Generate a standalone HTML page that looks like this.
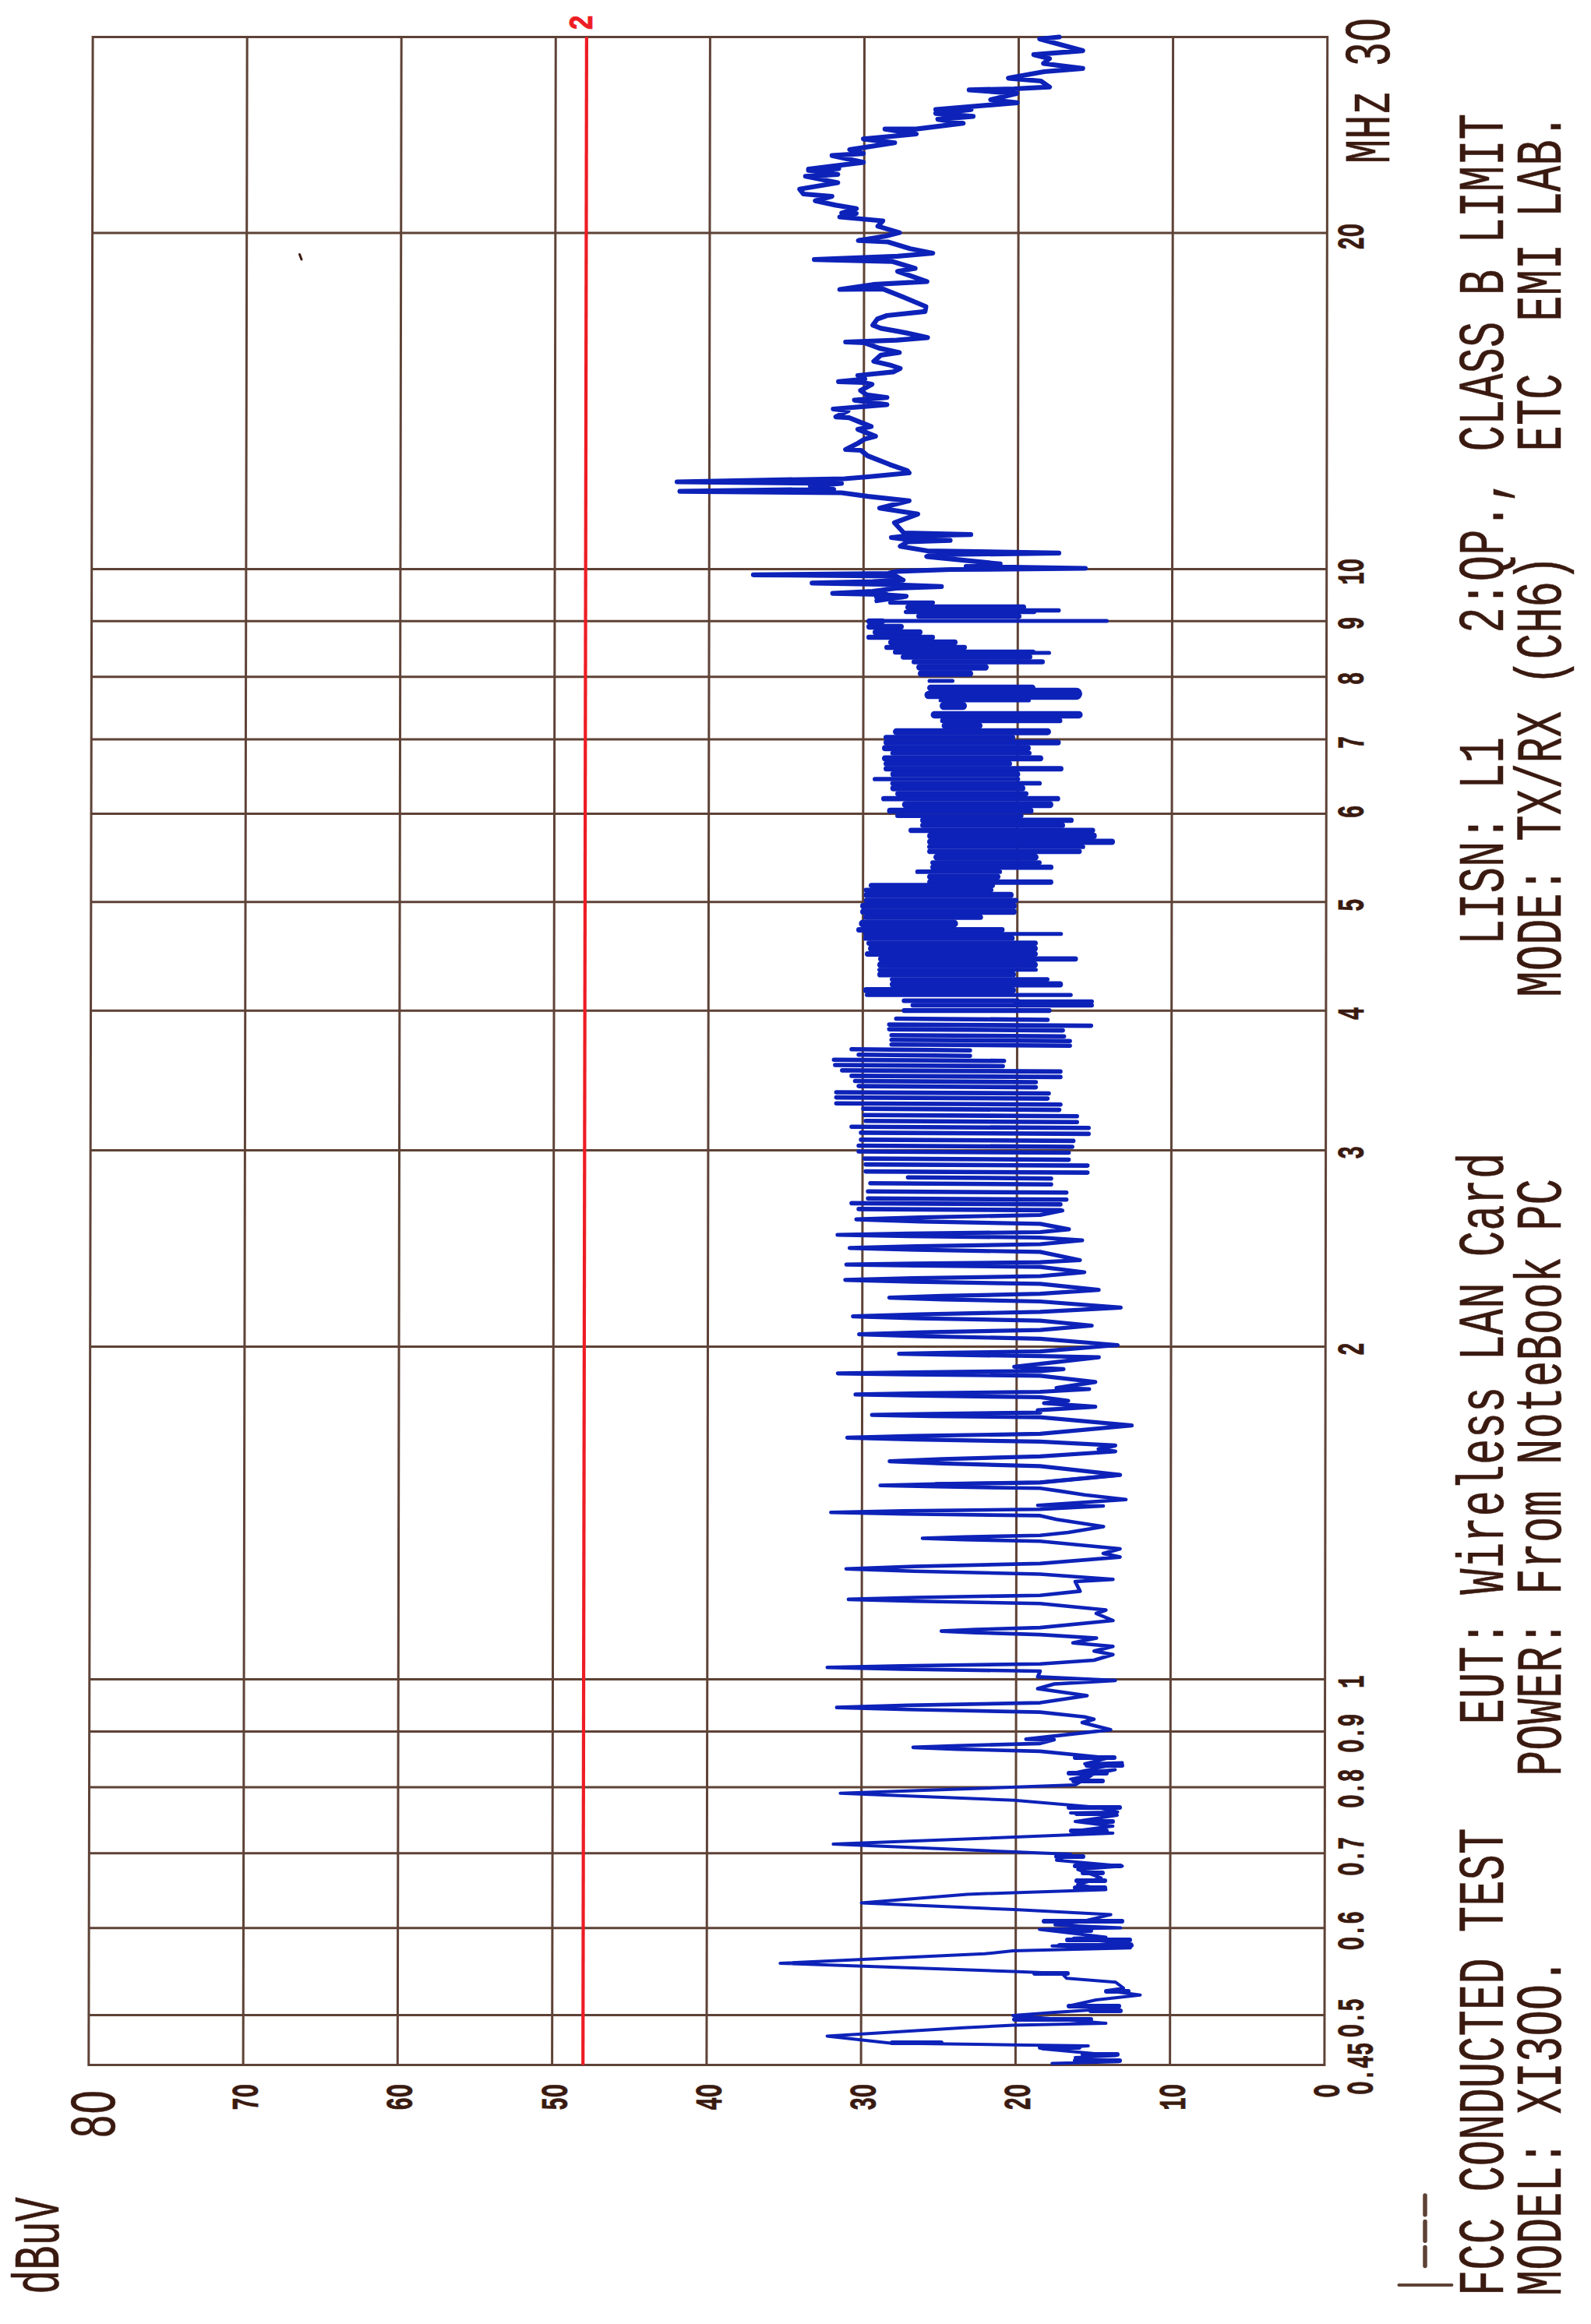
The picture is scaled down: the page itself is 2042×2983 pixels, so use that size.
<!DOCTYPE html><html><head><meta charset="utf-8"><style>html,body{margin:0;padding:0;background:#fff;}svg{display:block}</style></head><body><svg width="2042" height="2983" viewBox="0 0 2042 2983">
<rect width="100%" height="100%" fill="#fff"/>
<path d="M119.1 47.5L1703.7 47.5M118.6 299.1L1703.3 299.1M117.7 730.6L1702.7 730.6M117.6 797.3L1702.6 797.3M117.4 868.7L1702.5 868.7M117.3 948.9L1702.4 948.9M117.1 1044.6L1702.2 1044.6M116.8 1157.8L1702.1 1157.8M116.6 1297.3L1701.9 1297.3M116.2 1476.5L1701.6 1476.5M115.7 1728.6L1701.2 1728.6M114.8 2155.5L1700.6 2155.5M114.7 2222.6L1700.5 2222.6M114.5 2294.0L1700.4 2294.0M114.4 2378.7L1700.3 2378.7M114.2 2474.7L1700.2 2474.7M113.9 2586.5L1700.0 2586.5M113.8 2650.6L1699.9 2650.6M119.1 47.5L113.8 2650.6M317.2 47.5L312.1 2650.6M515.2 47.5L510.3 2650.6M713.3 47.5L708.6 2650.6M911.4 47.5L906.9 2650.6M1109.5 47.5L1105.1 2650.6M1307.5 47.5L1303.4 2650.6M1505.6 47.5L1501.6 2650.6M1703.7 47.5L1699.9 2650.6" stroke="#5e4236" stroke-width="3" fill="none" stroke-linecap="square"/>
<path d="M752.9 47.5L748.2 2650.6" stroke="#ee1c24" stroke-width="4.2" fill="none"/>
<g fill="none" stroke="#0d22b8" stroke-linejoin="round" stroke-linecap="round"><path d="M1359.5 47.5 L1334.4 50.0 L1362.0 57.6 L1389.7 65.1 L1326.8 70.2 L1347.0 75.2 L1339.4 81.5 L1389.7 87.8 L1340.0 92.0 L1294.2 100.3 L1336.0 104.0 L1347.0 111.7 L1302.0 114.0 L1243.9 115.4 L1305.0 120.0 L1271.5 128.0 L1305.5 131.8 L1201.0 140.6 L1246.4 140.6 L1201.0 145.6 L1249.0 149.4 L1203.6 153.1 L1236.3 158.2 L1176.0 165.7 L1135.8 165.7 L1176.0 172.0 L1108.1 178.3 L1148.3 183.3 L1090.5 192.1 L1108.1 197.1 L1067.9 199.7 L1108.1 208.4 L1037.7 217.2 L1076.6 216.3 L1037.6 218.8 L1075.3 223.8 L1033.8 226.3 L1075.3 234.5 L1026.3 242.7 L1031.3 249.0 L1067.8 252.1 L1046.4 257.7 L1072.8 263.4 L1099.2 267.8 L1080.3 273.5 L1099.0 274.0 L1077.8 278.5 L1133.1 283.5 L1126.8 290.4 L1154.5 298.6 L1136.9 303.0 L1101.7 308.7 L1139.4 310.5 L1168.3 319.3 L1197.2 325.0 L1152.0 328.8 L1045.1 333.2 L1145.7 335.7 L1174.6 344.5 L1152.0 348.3 L1189.7 361.4 L1120.6 365.2 L1077.8 371.5 L1133.1 370.9 L1158.3 380.9 L1188.4 393.5 L1187.2 399.8 L1138.4 405.0 L1126.0 409.5 L1120.3 417.4 L1130.5 421.4 L1153.0 425.4 L1164.5 427.6 L1190.5 433.3 L1150.9 436.7 L1085.3 439.0 L1110.0 440.0 L1128.2 446.9 L1154.3 452.5 L1130.5 455.9 L1121.5 463.8 L1141.8 468.4 L1155.4 472.9 L1146.3 477.4 L1101.0 482.0 L1110.0 486.5 L1076.2 489.9 L1108.0 491.0 L1119.2 493.2 L1104.5 501.2 L1112.4 506.8 L1138.4 510.2 L1096.6 513.6 L1138.4 519.3 L1069.4 525.0 L1088.6 527.2 L1072.8 535.1 L1089.8 536.2 L1106.7 543.0 L1118.1 547.5 L1101.0 551.0 L1123.7 560.0 L1110.1 563.4 L1101.0 569.0 L1085.3 577.0 L1105.0 578.0 L1113.5 585.0 L1141.8 596.2 L1164.5 604.1 L1166.8 607.0 L1114.0 612.0 L1083.8 614.5 L869.0 618.5 L1080.0 620.5 L1040.0 624.0 L1070.0 628.0 L872.6 630.7 L1080.0 632.5 L1114.0 637.1 L1166.8 642.8 L1129.0 652.2 L1178.0 659.8 L1148.0 671.0 L1160.0 684.0 L1246.0 686.2 L1162.0 688.0 L1144.0 690.0 L1160.0 692.0 L1219.5 693.7 L1165.0 695.5 L1155.5 701.2 L1190.0 707.0 L1359.0 709.9 L1195.0 712.0 L1189.4 714.4 L1283.7 723.9 L1240.0 727.0 L1393.0 729.5 L1220.0 731.0 L1151.7 733.3 L1140.0 736.0 L966.9 737.8 L1150.0 739.5 L1159.2 744.6 L1120.0 746.5 L1042.3 748.4 L1130.0 750.0 L1160.0 751.0 L1208.3 752.9 L1150.0 755.0 L1120.0 759.0 L1068.7 761.6 L1130.0 763.0 L1163.0 765.4 L1125.3 771.0" stroke-width="6.2"/><path d="M1102.5 762.0H1137.5" stroke-width="5.0"/><path d="M1124.7 766.5H1159.3" stroke-width="5.4"/><path d="M1142.7 773.5H1197.3" stroke-width="5.4"/><path d="M1165.7 779.5H1313.3" stroke-width="7.4"/><path d="M1302.7 783.5H1358.8" stroke-width="5.4"/><path d="M1162.7 785.5H1327.3" stroke-width="5.4"/><path d="M1179.2 791.0H1307.8" stroke-width="6.4"/><path d="M1132.5 797.0H1420.5" stroke-width="5.0"/><path d="M1115.7 797.5H1132.3" stroke-width="7.4"/><path d="M1115.7 804.5H1156.3" stroke-width="7.4"/><path d="M1123.7 811.5H1180.3" stroke-width="7.4"/><path d="M1115.2 818.0H1196.8" stroke-width="6.4"/><path d="M1143.7 824.5H1225.3" stroke-width="7.4"/><path d="M1138.2 831.0H1237.8" stroke-width="6.4"/><path d="M1149.2 837.0H1325.8" stroke-width="6.4"/><path d="M1302.5 838.0H1346.5" stroke-width="5.0"/><path d="M1159.5 843.2H1321.5" stroke-width="6.9"/><path d="M1173.2 849.5H1337.8" stroke-width="6.4"/><path d="M1180.2 856.5H1264.8" stroke-width="8.4"/><path d="M1182.2 864.5H1244.8" stroke-width="8.5"/><path d="M1193.0 874.0H1222.5" stroke-width="5.0"/><path d="M1194.2 883.0H1324.8" stroke-width="8.4"/><path d="M1191.7 892.0H1323.8" stroke-width="10.4"/><path d="M1307.7 890.5H1381.3" stroke-width="15.4"/><path d="M1207.1 899.0H1320.5" stroke-width="5.0"/><path d="M1211.2 906.0H1235.8" stroke-width="10.4"/><path d="M1199.2 917.5H1384.9" stroke-width="9.4"/><path d="M1209.8 925.0H1360.3" stroke-width="6.4"/><path d="M1212.3 931.5H1257.3" stroke-width="7.4"/><path d="M1150.5 939.2H1344.5" stroke-width="8.9"/><path d="M1137.2 946.5H1299.8" stroke-width="6.4"/><path d="M1137.7 953.0H1357.8" stroke-width="7.4"/><path d="M1136.0 960.2H1319.0" stroke-width="7.9"/><path d="M1145.7 966.8H1321.0" stroke-width="6.0"/><path d="M1135.9 973.3H1335.1" stroke-width="7.8"/><path d="M1137.5 980.2H1295.5" stroke-width="6.9"/><path d="M1137.5 986.8H1361.5" stroke-width="6.9"/><path d="M1146.6 993.7H1305.5" stroke-width="7.8"/><path d="M1122.9 1000.0H1306.5" stroke-width="5.7"/><path d="M1145.5 1005.4H1334.2" stroke-width="5.7"/><path d="M1146.7 1011.8H1312.0" stroke-width="8.0"/><path d="M1152.4 1018.8H1316.6" stroke-width="6.8"/><path d="M1134.4 1025.2H1357.3" stroke-width="6.8"/><path d="M1162.2 1032.7H1347.5" stroke-width="9.0"/><path d="M1142.4 1040.7H1322.6" stroke-width="7.8"/><path d="M1151.9 1047.1H1310.8" stroke-width="5.8"/><path d="M1184.3 1052.9H1374.7" stroke-width="6.6"/><path d="M1184.5 1059.3H1363.5" stroke-width="7.0"/><path d="M1169.4 1065.8H1402.2" stroke-width="6.8"/><path d="M1194.1 1072.9H1403.6" stroke-width="8.2"/><path d="M1193.9 1080.5H1427.1" stroke-width="7.8"/><path d="M1192.9 1086.9H1389.9" stroke-width="5.8"/><path d="M1193.4 1092.8H1385.1" stroke-width="6.8"/><path d="M1202.5 1100.2H1328.5" stroke-width="8.9"/><path d="M1197.0 1107.2H1334.0" stroke-width="5.9"/><path d="M1197.3 1113.2H1348.7" stroke-width="6.7"/><path d="M1177.6 1118.9H1283.2" stroke-width="5.7"/><path d="M1193.9 1125.3H1280.1" stroke-width="7.8"/><path d="M1193.5 1132.2H1348.5" stroke-width="6.9"/><path d="M1118.4 1136.6H1273.6" stroke-width="6.8"/><path d="M1111.3 1142.4H1272.2" stroke-width="5.6"/><path d="M1112.5 1148.8H1297.0" stroke-width="8.0"/><path d="M1111.9 1155.8H1303.6" stroke-width="6.8"/><path d="M1108.0 1162.8H1301.0" stroke-width="7.9"/><path d="M1108.0 1170.2H1301.0" stroke-width="7.9"/><path d="M1111.3 1177.3H1258.2" stroke-width="7.1"/><path d="M1107.4 1185.5H1224.6" stroke-width="10.0"/><path d="M1102.4 1193.5H1286.0" stroke-width="6.8"/><path d="M1110.3 1198.8H1361.8" stroke-width="5.0"/><path d="M1111.2 1204.2H1298.9" stroke-width="6.8"/><path d="M1115.4 1210.6H1328.6" stroke-width="6.8"/><path d="M1118.0 1217.5H1328.0" stroke-width="7.9"/><path d="M1113.4 1224.5H1328.6" stroke-width="6.8"/><path d="M1130.3 1230.8H1380.2" stroke-width="6.7"/><path d="M1130.5 1238.3H1327.5" stroke-width="9.1"/><path d="M1128.5 1244.8H1329.5" stroke-width="5.0"/><path d="M1129.9 1250.7H1300.1" stroke-width="7.8"/><path d="M1144.9 1257.1H1344.1" stroke-width="5.8"/><path d="M1145.9 1263.5H1360.4" stroke-width="7.8"/><path d="M1111.8 1271.0H1300.0" stroke-width="7.9"/><path d="M1112.6 1277.1H1374.2" stroke-width="5.2"/><path d="M1160.3 1284.6H1306.0" stroke-width="6.0"/><path d="M1302.7 1285.5H1401.3" stroke-width="5.4"/><path d="M1171.6 1290.2H1401.0" stroke-width="6.0"/><path d="M1160.4 1297.1H1346.6" stroke-width="6.2"/><path d="M1150.3 1307.5L1344.4 1309.0M1141.3 1315.1L1400.3 1316.6M1141.3 1321.1L1364.1 1322.6M1144.3 1328.7L1365.6 1330.2M1144.3 1334.7L1373.1 1336.2M1144.3 1340.7L1373.1 1342.2M1093.0 1346.8L1244.9 1348.3M1102.1 1353.7L1244.9 1355.2M1070.4 1360.3L1288.6 1361.8M1071.9 1367.0L1287.1 1368.5M1080.9 1373.9L1361.0 1375.4M1093.0 1380.9L1361.0 1382.4M1097.5 1387.5L1329.4 1389.0M1102.1 1394.1L1329.4 1395.6M1073.4 1402.0L1346.0 1403.5M1073.4 1408.6L1344.4 1410.1M1073.4 1416.2L1361.0 1417.7M1108.1 1423.1L1359.5 1424.6M1109.6 1431.2L1382.2 1432.7M1111.1 1438.8L1382.2 1440.3M1093.0 1446.3L1397.2 1447.8M1105.1 1453.9L1397.2 1455.4M1105.1 1462.9L1377.6 1464.4M1102.1 1470.5L1376.1 1472.0M1102.1 1478.0L1371.6 1479.5M1109.6 1487.1L1371.6 1488.6M1111.1 1494.6L1395.7 1496.1M1111.1 1503.6L1395.7 1505.1M1165.4 1511.2L1349.0 1512.7M1117.1 1518.7L1349.0 1520.2M1114.1 1529.3L1368.6 1530.8M1114.1 1538.3L1368.6 1539.8M1093.0 1544.4L1361.0 1545.9M1102.1 1551.9L1361.0 1553.4" stroke-width="5.6"/><path d="M1363.5 1553.8 L1335.0 1559.5 L1181.6 1562.6 L1099.0 1565.2 L1181.6 1567.8 L1335.0 1570.9 L1371.9 1577.9 L1335.0 1581.5 L1165.9 1583.4 L1074.9 1585.0 L1165.9 1586.6 L1335.0 1588.5 L1388.9 1592.0 L1335.0 1597.0 L1176.1 1599.7 L1090.5 1601.9 L1176.1 1604.1 L1335.0 1606.9 L1386.0 1617.5 L1335.0 1620.1 L1173.3 1621.8 L1086.3 1623.1 L1173.3 1624.4 L1335.0 1626.1 L1391.7 1633.0 L1335.0 1638.0 L1172.4 1640.7 L1084.9 1642.9 L1172.4 1645.1 L1335.0 1647.9 L1410.1 1655.7 L1335.0 1660.7 L1209.2 1663.4 L1141.4 1665.6 L1209.2 1667.8 L1335.0 1670.5 L1438.4 1678.3 L1335.0 1683.9 L1178.8 1687.1 L1094.7 1689.6 L1178.8 1692.1 L1335.0 1695.2 L1401.2 1701.5 L1335.0 1707.1 L1183.9 1710.2 L1102.6 1712.7 L1183.9 1715.2 L1335.0 1718.3 L1434.4 1726.5 L1335.0 1734.7 L1217.3 1736.4 L1153.9 1737.7 L1217.3 1739.0 L1335.0 1740.7 L1410.3 1742.2 L1301.7 1754.3 L1365.0 1757.3 L1335.0 1759.8 L1166.3 1761.5 L1075.4 1762.8 L1166.3 1764.1 L1335.0 1765.8 L1405.8 1773.9 L1356.0 1781.5 L1398.0 1783.0 L1335.0 1786.5 L1181.0 1788.3 L1098.0 1789.9 L1181.0 1791.5 L1335.0 1793.4 L1371.0 1798.0 L1340.0 1801.0 L1405.8 1805.6 L1331.9 1810.1 L1335.0 1813.2 L1194.7 1814.8 L1119.2 1816.2 L1194.7 1817.6 L1335.0 1819.2 L1452.5 1829.7 L1335.0 1840.4 L1174.1 1843.2 L1087.5 1845.4 L1174.1 1847.7 L1335.0 1850.4 L1431.4 1855.4 L1410.0 1860.0 L1431.4 1863.0 L1335.0 1869.3 L1209.4 1872.8 L1141.8 1875.6 L1209.4 1878.4 L1335.0 1881.9 L1437.5 1893.1 L1335.0 1902.8 L1201.6 1904.9" stroke-width="5.2"/><path d="M1437.5 1893.1 L1335.0 1902.8 L1201.6 1904.9 L1129.7 1906.6 L1201.6 1908.3 L1335.0 1910.3 L1362.0 1914.1 L1392.0 1918.7 L1445.0 1924.7 L1331.9 1932.2 L1416.0 1933.0 L1335.0 1937.2 L1160.4 1939.4 L1066.4 1941.3 L1160.4 1943.2 L1335.0 1945.4 L1356.0 1950.3 L1416.3 1959.4 L1371.0 1967.0 L1335.0 1970.8 L1236.8 1972.8 L1184.0 1974.5 L1236.8 1976.2 L1335.0 1978.2 L1437.5 1988.0 L1416.0 1994.0 L1437.5 1998.6 L1335.0 2006.9 L1173.2 2010.6 L1086.0 2013.7 L1173.2 2016.8 L1335.0 2020.5 L1428.4 2027.3 L1380.0 2030.0 L1386.2 2042.4 L1335.0 2047.7 L1175.1 2050.5 L1089.0 2052.9 L1175.1 2055.3 L1335.0 2058.2 L1419.4 2066.5 L1407.0 2071.0 L1428.4 2080.0 L1335.0 2089.1 L1252.6 2091.6 L1208.2 2093.6 L1252.6 2095.6 L1335.0 2098.1 L1407.3 2102.6 L1377.1 2108.7 L1428.4 2113.2 L1404.3 2119.2 L1428.4 2123.7 L1404.0 2131.0 L1335.0 2135.7 L1157.4 2138.2 L1061.8 2140.3 L1157.4 2142.4 L1335.0 2145.0 L1331.9 2152.4 L1431.4 2157.0 L1353.0 2161.5 L1331.9 2167.5 L1395.2 2176.5 L1335.0 2185.6 L1165.3 2188.9 L1073.9 2191.6 L1165.3 2194.3 L1335.0 2197.6 L1392.2 2203.7 L1404.0 2206.7 L1389.0 2211.0 L1425.4 2220.3 L1316.8 2232.4 L1353.0 2233.0 L1335.0 2237.9 L1229.0 2240.7 L1172.0 2242.9 L1229.0 2245.1 L1335.0 2247.9 L1422.4 2256.5" stroke-width="4.6"/><path d="M1422.4 2256.5 L1392.2 2264.0 L1440.5 2262.5 L1377.0 2276.0 L1431.4 2271.5 L1374.1 2283.6 L1401.0 2279.0 L1380.1 2291.1 L1078.4 2301.7 L1301.7 2310.7 L1407.3 2319.8 L1434.4 2325.8 L1374.0 2327.0 L1434.0 2330.0 L1380.0 2338.0 L1428.4 2343.9 L1380.0 2350.0 L1428.4 2353.0 L1069.4 2367.1 L1301.7 2377.0 L1374.1 2380.1 L1356.0 2387.7 L1440.5 2395.2 L1383.2 2399.7 L1413.3 2410.3 L1383.0 2419.0 L1419.4 2425.4 L1241.4 2431.4 L1105.6 2442.6 L1301.7 2451.0 L1425.7 2457.6 L1388.0 2466.4 L1354.0 2470.8 L1438.3 2474.6 L1334.0 2476.5 L1419.4 2486.5 L1378.0 2487.8 L1452.1 2495.3 L1350.3 2497.8 L1450.8 2500.3 L1300.0 2504.1 L1263.8 2507.8 L1001.3 2519.9 L1300.0 2530.5 L1362.9 2533.0 L1369.1 2539.3 L1432.0 2544.3 L1442.0 2551.9 L1420.7 2555.0 L1463.4 2560.7 L1406.9 2567.0 L1372.9 2574.5 L1435.8 2577.6 L1350.3 2583.3 L1300.0 2587.1 L1419.4 2597.1 L1300.0 2599.6 L1236.6 2602.8 L1061.6 2613.4 L1143.0 2622.4 L1300.0 2624.8 L1396.8 2626.0 L1337.7 2629.8 L1432.0 2638.6 L1380.0 2641.0 L1435.8 2646.2 L1350.3 2648.4" stroke-width="4.0"/><path d="M1380.0 2256.0H1430.0M1395.0 2266.0H1440.0M1372.0 2276.0H1420.0M1378.0 2286.0H1415.0M1372.0 2320.0H1437.0M1382.0 2328.0H1432.0M1392.0 2338.0H1428.0M1375.0 2350.0H1420.0M1356.0 2383.0H1390.0M1380.0 2395.0H1438.0M1390.0 2404.0H1415.0M1382.0 2414.0H1418.0M1380.0 2423.0H1418.0M1340.0 2466.0H1440.0M1360.0 2478.0H1400.0M1370.0 2490.0H1450.0M1360.0 2497.0H1452.0M1328.0 2533.0H1370.0M1420.0 2556.0H1448.0M1372.0 2575.0H1436.0M1400.0 2581.0H1438.0M1302.0 2592.0H1400.0M1145.0 2622.0H1208.0M1335.0 2628.0H1385.0M1390.0 2637.0H1434.0M1380.0 2645.0H1437.0" stroke-width="6"/></g>
<text transform="translate(1929.0,2947.0) rotate(-90) scale(0.6657,1)" font-family='"Liberation Mono", monospace' font-size="83.5" font-weight="normal" fill="#3a1a10" stroke="#3a1a10" stroke-width="0.5" xml:space="preserve">FCC CONDUCTED TEST    EUT: Wireless LAN Card        LISN: L1    2:QP., CLASS B LIMIT</text>
<text transform="translate(2003.0,2947.0) rotate(-90) scale(0.6657,1)" font-family='"Liberation Mono", monospace' font-size="83.5" font-weight="normal" fill="#3a1a10" stroke="#3a1a10" stroke-width="0.5" xml:space="preserve">MODEL: XI3OO.       POWER: From NoteBook PC       MODE: TX/RX (CH6)    ETC  EMI LAB.</text>
<text transform="translate(1750.0,304.0) rotate(-90) scale(0.573,1)" text-anchor="middle" font-family='"Liberation Mono", monospace' font-size="48.6" font-weight="bold" fill="#3a1a10" stroke="#3a1a10" stroke-width="0.8">2O</text>
<text transform="translate(1750.0,734.0) rotate(-90) scale(0.573,1)" text-anchor="middle" font-family='"Liberation Mono", monospace' font-size="48.6" font-weight="bold" fill="#3a1a10" stroke="#3a1a10" stroke-width="0.8">1O</text>
<text transform="translate(1750.0,800.0) rotate(-90) scale(0.573,1)" text-anchor="middle" font-family='"Liberation Mono", monospace' font-size="48.6" font-weight="bold" fill="#3a1a10" stroke="#3a1a10" stroke-width="0.8">9</text>
<text transform="translate(1750.0,871.0) rotate(-90) scale(0.573,1)" text-anchor="middle" font-family='"Liberation Mono", monospace' font-size="48.6" font-weight="bold" fill="#3a1a10" stroke="#3a1a10" stroke-width="0.8">8</text>
<text transform="translate(1750.0,953.0) rotate(-90) scale(0.573,1)" text-anchor="middle" font-family='"Liberation Mono", monospace' font-size="48.6" font-weight="bold" fill="#3a1a10" stroke="#3a1a10" stroke-width="0.8">7</text>
<text transform="translate(1750.0,1042.0) rotate(-90) scale(0.573,1)" text-anchor="middle" font-family='"Liberation Mono", monospace' font-size="48.6" font-weight="bold" fill="#3a1a10" stroke="#3a1a10" stroke-width="0.8">6</text>
<text transform="translate(1750.0,1161.7) rotate(-90) scale(0.573,1)" text-anchor="middle" font-family='"Liberation Mono", monospace' font-size="48.6" font-weight="bold" fill="#3a1a10" stroke="#3a1a10" stroke-width="0.8">5</text>
<text transform="translate(1750.0,1301.0) rotate(-90) scale(0.573,1)" text-anchor="middle" font-family='"Liberation Mono", monospace' font-size="48.6" font-weight="bold" fill="#3a1a10" stroke="#3a1a10" stroke-width="0.8">4</text>
<text transform="translate(1750.0,1479.5) rotate(-90) scale(0.573,1)" text-anchor="middle" font-family='"Liberation Mono", monospace' font-size="48.6" font-weight="bold" fill="#3a1a10" stroke="#3a1a10" stroke-width="0.8">3</text>
<text transform="translate(1750.0,1731.7) rotate(-90) scale(0.573,1)" text-anchor="middle" font-family='"Liberation Mono", monospace' font-size="48.6" font-weight="bold" fill="#3a1a10" stroke="#3a1a10" stroke-width="0.8">2</text>
<text transform="translate(1750.0,2158.7) rotate(-90) scale(0.573,1)" text-anchor="middle" font-family='"Liberation Mono", monospace' font-size="48.6" font-weight="bold" fill="#3a1a10" stroke="#3a1a10" stroke-width="0.8">1</text>
<text transform="translate(1750.0,2224.5) rotate(-90) scale(0.573,1)" text-anchor="middle" font-family='"Liberation Mono", monospace' font-size="48.6" font-weight="bold" fill="#3a1a10" stroke="#3a1a10" stroke-width="0.8">O.9</text>
<text transform="translate(1750.0,2295.5) rotate(-90) scale(0.573,1)" text-anchor="middle" font-family='"Liberation Mono", monospace' font-size="48.6" font-weight="bold" fill="#3a1a10" stroke="#3a1a10" stroke-width="0.8">O.8</text>
<text transform="translate(1750.0,2382.5) rotate(-90) scale(0.573,1)" text-anchor="middle" font-family='"Liberation Mono", monospace' font-size="48.6" font-weight="bold" fill="#3a1a10" stroke="#3a1a10" stroke-width="0.8">O.7</text>
<text transform="translate(1750.0,2478.0) rotate(-90) scale(0.573,1)" text-anchor="middle" font-family='"Liberation Mono", monospace' font-size="48.6" font-weight="bold" fill="#3a1a10" stroke="#3a1a10" stroke-width="0.8">O.6</text>
<text transform="translate(1750.0,2590.0) rotate(-90) scale(0.573,1)" text-anchor="middle" font-family='"Liberation Mono", monospace' font-size="48.6" font-weight="bold" fill="#3a1a10" stroke="#3a1a10" stroke-width="0.8">O.5</text>
<text transform="translate(1762.0,2655.0) rotate(-90) scale(0.573,1)" text-anchor="middle" font-family='"Liberation Mono", monospace' font-size="48.6" font-weight="bold" fill="#3a1a10" stroke="#3a1a10" stroke-width="0.8">O.45</text>
<text transform="translate(1719.0,2684.0) rotate(-90) scale(0.573,1)" text-anchor="middle" font-family='"Liberation Mono", monospace' font-size="48.6" font-weight="bold" fill="#3a1a10" stroke="#3a1a10" stroke-width="0.8">O</text>
<text transform="translate(331.1,2692.0) rotate(-90) scale(0.573,1)" text-anchor="middle" font-family='"Liberation Mono", monospace' font-size="48.6" font-weight="bold" fill="#3a1a10" stroke="#3a1a10" stroke-width="0.8">7O</text>
<text transform="translate(529.3,2692.0) rotate(-90) scale(0.573,1)" text-anchor="middle" font-family='"Liberation Mono", monospace' font-size="48.6" font-weight="bold" fill="#3a1a10" stroke="#3a1a10" stroke-width="0.8">6O</text>
<text transform="translate(727.6,2692.0) rotate(-90) scale(0.573,1)" text-anchor="middle" font-family='"Liberation Mono", monospace' font-size="48.6" font-weight="bold" fill="#3a1a10" stroke="#3a1a10" stroke-width="0.8">5O</text>
<text transform="translate(925.8,2692.0) rotate(-90) scale(0.573,1)" text-anchor="middle" font-family='"Liberation Mono", monospace' font-size="48.6" font-weight="bold" fill="#3a1a10" stroke="#3a1a10" stroke-width="0.8">4O</text>
<text transform="translate(1124.1,2692.0) rotate(-90) scale(0.573,1)" text-anchor="middle" font-family='"Liberation Mono", monospace' font-size="48.6" font-weight="bold" fill="#3a1a10" stroke="#3a1a10" stroke-width="0.8">3O</text>
<text transform="translate(1322.4,2692.0) rotate(-90) scale(0.573,1)" text-anchor="middle" font-family='"Liberation Mono", monospace' font-size="48.6" font-weight="bold" fill="#3a1a10" stroke="#3a1a10" stroke-width="0.8">2O</text>
<text transform="translate(1520.6,2692.0) rotate(-90) scale(0.573,1)" text-anchor="middle" font-family='"Liberation Mono", monospace' font-size="48.6" font-weight="bold" fill="#3a1a10" stroke="#3a1a10" stroke-width="0.8">1O</text>
<text transform="translate(760.0,29.0) rotate(-90) scale(0.741,1)" text-anchor="middle" font-family='"Liberation Mono", monospace' font-size="45" font-weight="bold" fill="#ee1c24" stroke="#ee1c24" stroke-width="0.8">2</text>
<text transform="translate(1783.0,210.0) rotate(-90) scale(0.6228,1)" font-family='"Liberation Mono", monospace' font-size="83.5" fill="#3a1a10" stroke="#3a1a10" stroke-width="0.5" xml:space="preserve">MHz 3O</text>
<text transform="translate(147.0,2745.0) rotate(-90) scale(0.6228,1)" font-family='"Liberation Mono", monospace' font-size="83.5" fill="#3a1a10" stroke="#3a1a10" stroke-width="0.5" xml:space="preserve">8O</text>
<text transform="translate(75.0,2945.0) rotate(-90) scale(0.6228,1)" font-family='"Liberation Mono", monospace' font-size="83.5" fill="#3a1a10" stroke="#3a1a10" stroke-width="0.5" xml:space="preserve">dBuV</text>
<path d="M1795.4 2933H1863.4" stroke="#5e4236" stroke-width="4" stroke-linecap="round"/>
<path d="M1829 2818V2842.7M1829 2851.4V2876.3M1829 2884.4V2908.5" stroke="#5e4236" stroke-width="5.5" stroke-linecap="round"/>
<path d="M384.5 326.5L387 333" stroke="#3a1a10" stroke-width="3" stroke-linecap="round"/>
</svg></body></html>
